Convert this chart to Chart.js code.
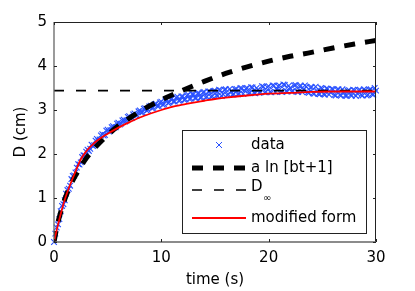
<!DOCTYPE html>
<html>
<head>
<meta charset="utf-8">
<script src="https://cdn.jsdelivr.net/npm/chart.js@4.4.0/dist/chart.umd.min.js"></script>
<style>
  html, body { margin: 0; padding: 0; background: #fff; }
  #wrap { width: 415px; height: 291px; }
</style>
</head>
<body>
<div id="wrap"><canvas id="chart" width="415" height="291"></canvas></div>
<script>
// measured data (time in s, D in cm), samples on the quarter second
const dataTimeA = [
  0, 0.25, 0.5, 0.75, 1, 1.25, 1.5, 1.75, 2, 2.25, 2.5, 2.75, 3, 3.25, 3.5, 3.75, 4, 4.25, 4.5, 4.75,
  5, 5.25, 5.5, 5.75, 6, 6.25, 6.5, 6.75, 7, 7.25, 7.5, 7.75, 8, 8.25, 8.5, 8.75, 9, 9.25, 9.5, 9.75,
  10, 10.25, 10.5, 10.75, 11, 11.25, 11.5, 11.75, 12, 12.25, 12.5, 12.75, 13, 13.25, 13.5, 13.75, 14, 14.25, 14.5, 14.75,
  15, 15.25, 15.5, 15.75, 16, 16.25, 16.5, 16.75, 17, 17.25, 17.5, 17.75, 18, 18.25, 18.5, 18.75, 19, 19.25, 19.5, 19.75,
  20, 20.25, 20.5, 20.75, 21, 21.25, 21.5, 21.75, 22, 22.25, 22.5, 22.75, 23, 23.25, 23.5, 23.75, 24, 24.25, 24.5, 24.75,
  25, 25.25, 25.5, 25.75, 26, 26.25, 26.5, 26.75, 27, 27.25, 27.5, 27.75, 28, 28.25, 28.5, 28.75, 29, 29.25, 29.5, 29.75,
  30
];
const dataDA = [
  0.00, 0.33, 0.52, 0.82, 0.95, 1.18, 1.28, 1.50, 1.58, 1.77, 1.81, 1.97, 2.05, 2.07, 2.21, 2.20, 2.34, 2.33, 2.45, 2.43,
  2.55, 2.54, 2.63, 2.61, 2.71, 2.69, 2.78, 2.76, 2.86, 2.82, 2.92, 2.88, 2.99, 2.95, 3.04, 3.00, 3.10, 3.05, 3.14, 3.09,
  3.19, 3.13, 3.23, 3.17, 3.26, 3.19, 3.30, 3.22, 3.31, 3.24, 3.35, 3.26, 3.36, 3.27, 3.38, 3.29, 3.41, 3.30, 3.42, 3.31,
  3.44, 3.32, 3.45, 3.36, 3.47, 3.35, 3.42, 3.36, 3.48, 3.37, 3.49, 3.44, 3.50, 3.39, 3.51, 3.38, 3.46, 3.40, 3.53, 3.41,
  3.54, 3.40, 3.55, 3.47, 3.56, 3.41, 3.57, 3.42, 3.50, 3.43, 3.57, 3.41, 3.55, 3.46, 3.53, 3.39, 3.52, 3.37, 3.44, 3.36,
  3.49, 3.35, 3.48, 3.40, 3.47, 3.33, 3.47, 3.33, 3.41, 3.32, 3.45, 3.33, 3.45, 3.38, 3.46, 3.33, 3.45, 3.34, 3.47, 3.35,
  3.44
];
// measured data, samples between the quarter seconds
const dataTimeB = [
  0.125, 0.375, 0.625, 0.875, 1.125, 1.375, 1.625, 1.875, 2.125, 2.375, 2.625, 2.875, 3.125, 3.375, 3.625, 3.875, 4.125, 4.375, 4.625, 4.875,
  5.125, 5.375, 5.625, 5.875, 6.125, 6.375, 6.625, 6.875, 7.125, 7.375, 7.625, 7.875, 8.125, 8.375, 8.625, 8.875, 9.125, 9.375, 9.625, 9.875,
  10.125, 10.375, 10.625, 10.875, 11.125, 11.375, 11.625, 11.875, 12.125, 12.375, 12.625, 12.875, 13.125, 13.375, 13.625, 13.875, 14.125, 14.375, 14.625, 14.875,
  15.125, 15.375, 15.625, 15.875, 16.125, 16.375, 16.625, 16.875, 17.125, 17.375, 17.625, 17.875, 18.125, 18.375, 18.625, 18.875, 19.125, 19.375, 19.625, 19.875,
  20.125, 20.375, 20.625, 20.875, 21.125, 21.375, 21.625, 21.875, 22.125, 22.375, 22.625, 22.875, 23.125, 23.375, 23.625, 23.875, 24.125, 24.375, 24.625, 24.875,
  25.125, 25.375, 25.625, 25.875, 26.125, 26.375, 26.625, 26.875, 27.125, 27.375, 27.625, 27.875, 28.125, 28.375, 28.625, 28.875, 29.125, 29.375, 29.625, 29.875
];
const dataDB = [
  0.19, 0.40, 0.70, 0.86, 1.10, 1.21, 1.43, 1.51, 1.69, 1.76, 1.93, 1.96, 2.10, 2.12, 2.18, 2.30, 2.31, 2.42, 2.42, 2.53,
  2.51, 2.61, 2.60, 2.69, 2.67, 2.76, 2.74, 2.84, 2.81, 2.90, 2.87, 2.97, 2.94, 3.03, 2.99, 3.08, 3.04, 3.13, 3.09, 3.17,
  3.12, 3.22, 3.16, 3.25, 3.19, 3.28, 3.21, 3.31, 3.23, 3.33, 3.25, 3.36, 3.27, 3.38, 3.28, 3.40, 3.29, 3.42, 3.30, 3.43,
  3.33, 3.46, 3.32, 3.46, 3.34, 3.48, 3.35, 3.47, 3.36, 3.50, 3.37, 3.49, 3.38, 3.52, 3.39, 3.50, 3.39, 3.54, 3.40, 3.52,
  3.41, 3.56, 3.41, 3.54, 3.42, 3.58, 3.43, 3.55, 3.42, 3.56, 3.42, 3.54, 3.41, 3.56, 3.40, 3.51, 3.38, 3.53, 3.37, 3.50,
  3.36, 3.49, 3.35, 3.48, 3.34, 3.46, 3.34, 3.47, 3.33, 3.44, 3.34, 3.46, 3.32, 3.45, 3.34, 3.47, 3.33, 3.46, 3.36, 3.50
];

// fit a ln[bt+1]
const logTime = [0, 0.25, 0.5, 1, 1.5, 2, 3, 4, 5, 6, 7, 8, 10, 12, 14, 16, 18, 20, 22, 24, 26, 28, 30];
const logD = [0, 0.32, 0.57, 0.97, 1.27, 1.51, 1.90, 2.19, 2.43, 2.64, 2.81, 2.97, 3.23, 3.45, 3.65, 3.83, 3.98, 4.11, 4.22, 4.31, 4.41, 4.50, 4.58];

// D infinity
const dInf = 3.44;

// modified form
const modTime = [0, 0.25, 0.5, 0.75, 1, 1.5, 2, 2.5, 3, 3.5, 4, 5, 6, 7, 8, 9, 10, 11, 12, 13, 14, 15, 16, 18, 20, 22, 24, 26, 28, 30];
const modD = [0, 0.27, 0.52, 0.75, 0.96, 1.30, 1.60, 1.88, 2.06, 2.19, 2.30, 2.46, 2.60, 2.72, 2.83, 2.92, 3.00, 3.07, 3.12, 3.17, 3.21, 3.25, 3.28, 3.33, 3.37, 3.39, 3.41, 3.42, 3.42, 3.42];

const xTicks = [0, 10, 20, 30];
const yTicks = [0, 1, 2, 3, 4, 5];

const FONT = 'DejaVu Sans';
const BLUE = 'rgb(40, 80, 255)';

const toPts = (xs, ys) => xs.map((x, i) => ({ x: x, y: ys[i] }));

// box, inward ticks and legend
const framePlugin = {
    id: 'frame',
    afterDraw(chart) {
        const ctx = chart.ctx;
        const ca = chart.chartArea;
        const xs = chart.scales.x;
        const ys = chart.scales.y;

        ctx.save();
        ctx.lineWidth = 1;
        ctx.strokeStyle = '#222';
        ctx.beginPath();
        ctx.moveTo(ca.left, ca.top + 0.5);
        ctx.lineTo(ca.right, ca.top + 0.5);
        ctx.moveTo(ca.right - 0.5, ca.top);
        ctx.lineTo(ca.right - 0.5, ca.bottom);
        ctx.stroke();
        ctx.strokeStyle = '#666';
        ctx.lineWidth = 1.3;
        ctx.beginPath();
        ctx.moveTo(ca.left, ca.top);
        ctx.lineTo(ca.left, ca.bottom);
        ctx.lineTo(ca.right, ca.bottom);
        ctx.stroke();

        ctx.strokeStyle = '#222';
        ctx.lineWidth = 1;
        ctx.beginPath();
        xTicks.forEach(v => {
            const px = Math.round(xs.getPixelForValue(v)) + 0.5;
            ctx.moveTo(px, ca.bottom);
            ctx.lineTo(px, ca.bottom - 3);
            ctx.moveTo(px, ca.top);
            ctx.lineTo(px, ca.top + 3);
        });
        yTicks.forEach(v => {
            const py = Math.round(ys.getPixelForValue(v)) + 0.5;
            ctx.moveTo(ca.left, py);
            ctx.lineTo(ca.left + 3, py);
            ctx.moveTo(ca.right, py);
            ctx.lineTo(ca.right - 3, py);
        });
        ctx.stroke();

        // legend
        const lx = ca.right - 194;
        const ly = ca.top + 108;
        ctx.fillStyle = '#fff';
        ctx.fillRect(lx, ly, 185, 104);
        ctx.strokeStyle = '#222';
        ctx.lineWidth = 1;
        ctx.strokeRect(lx + 0.5, ly + 0.5, 184, 103);

        const sx0 = lx + 10, sx1 = lx + 64, tx = lx + 69;
        ctx.font = '15px "' + FONT + '"';
        ctx.fillStyle = '#000';
        ctx.textBaseline = 'middle';
        ctx.textAlign = 'left';

        // data
        let y = ly + 15;
        ctx.strokeStyle = BLUE;
        ctx.beginPath();
        ctx.moveTo(lx + 34, y - 3); ctx.lineTo(lx + 40, y + 3);
        ctx.moveTo(lx + 40, y - 3); ctx.lineTo(lx + 34, y + 3);
        ctx.stroke();
        ctx.fillText('data', tx, y);

        // a ln
        y = ly + 38;
        ctx.strokeStyle = '#000';
        ctx.lineWidth = 5;
        ctx.setLineDash([11, 10]);
        ctx.beginPath();
        ctx.moveTo(sx0, y); ctx.lineTo(sx1, y);
        ctx.stroke();
        ctx.fillText('a ln [bt+1]', tx, y);

        // D inf
        y = ly + 60;
        ctx.lineWidth = 1.6;
        ctx.setLineDash([10, 12]);
        ctx.beginPath();
        ctx.moveTo(sx0, y); ctx.lineTo(sx1, y);
        ctx.stroke();
        ctx.fillText('D', tx, y - 3);
        ctx.font = '10px "' + FONT + '"';
        ctx.fillText('\u221E', tx + 12, y + 8);

        // modified form
        y = ly + 88;
        ctx.font = '15px "' + FONT + '"';
        ctx.setLineDash([]);
        ctx.strokeStyle = '#ff0000';
        ctx.lineWidth = 1.8;
        ctx.beginPath();
        ctx.moveTo(sx0, y); ctx.lineTo(sx1, y);
        ctx.stroke();
        ctx.fillText('modified form', tx, y);
        ctx.restore();
    }
};

const ctx = document.getElementById('chart').getContext('2d');
new Chart(ctx, {
    type: 'scatter',
    data: {
        datasets: [{
            label: 'data',
            data: toPts(dataTimeA, dataDA).concat(toPts(dataTimeB, dataDB)),
            pointStyle: 'crossRot',
            pointRadius: 4,
            borderColor: BLUE,
            backgroundColor: BLUE,
            borderWidth: 1.1,
            showLine: false,
            clip: false,
            order: 3
        }, {
            label: 'a ln [bt+1]',
            data: toPts(logTime, logD),
            showLine: true,
            pointRadius: 0,
            borderColor: '#000',
            borderWidth: 5,
            borderDash: [11, 10],
            cubicInterpolationMode: 'monotone',
            order: 2
        }, {
            label: 'D\u221E',
            data: [{ x: 0, y: dInf }, { x: 30, y: dInf }],
            showLine: true,
            pointRadius: 0,
            borderColor: '#000',
            borderWidth: 1.6,
            borderDash: [10, 12],
            order: 1
        }, {
            label: 'modified form',
            data: toPts(modTime, modD),
            showLine: true,
            pointRadius: 0,
            borderColor: '#ff0000',
            borderWidth: 1.8,
            cubicInterpolationMode: 'monotone',
            order: 0
        }]
    },
    options: {
        responsive: false,
        animation: false,
        events: [],
        layout: {
            padding: { top: 22, right: 39, left: 0, bottom: 0 }
        },
        plugins: {
            legend: { display: false },
            tooltip: { enabled: false }
        },
        scales: {
            x: {
                type: 'linear',
                min: 0,
                max: 30,
                afterBuildTicks: s => { s.ticks = xTicks.map(v => ({ value: v })); },
                afterFit: s => { s.height = 49; },
                grid: { display: false, drawTicks: false },
                border: { display: false },
                ticks: {
                    color: '#000',
                    padding: 7,
                    maxRotation: 0,
                    font: { family: FONT, size: 15 }
                },
                title: {
                    display: true,
                    text: 'time (s)',
                    color: '#000',
                    font: { family: FONT, size: 15 },
                    padding: { top: 0, bottom: 2 }
                }
            },
            y: {
                type: 'linear',
                min: 0,
                max: 5,
                afterBuildTicks: s => { s.ticks = yTicks.map(v => ({ value: v })); },
                afterFit: s => { s.width = 54; },
                grid: { display: false, drawTicks: false },
                border: { display: false },
                ticks: {
                    color: '#000',
                    padding: 7,
                    font: { family: FONT, size: 15 }
                },
                title: {
                    display: true,
                    text: 'D (cm)',
                    color: '#000',
                    font: { family: FONT, size: 15 },
                    padding: { top: 12, bottom: 0 }
                }
            }
        }
    },
    plugins: [framePlugin]
});
</script>
</body>
</html>
